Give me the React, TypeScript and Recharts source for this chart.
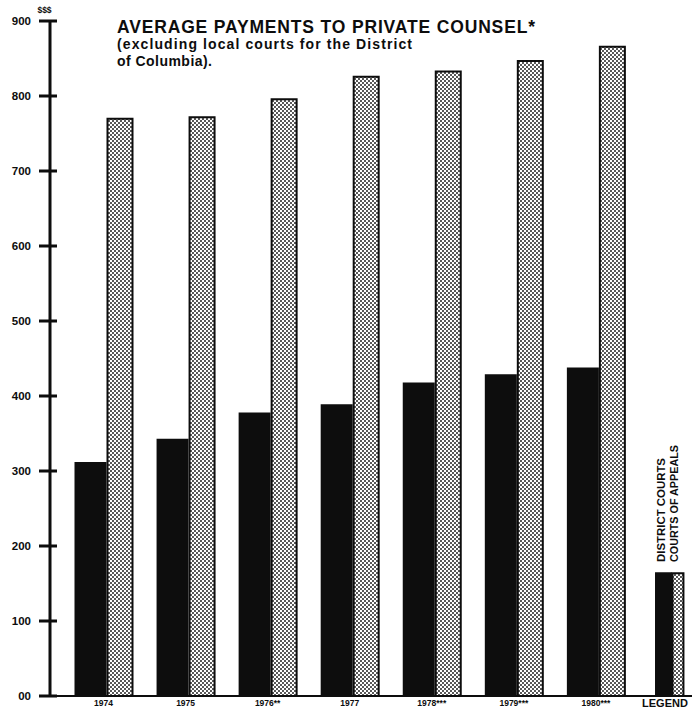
import React from 'react';
import { BarChart, Bar, XAxis, YAxis } from 'recharts';

const years = ['1974', '1975', '1976**', '1977', '1978***', '1979***', '1980***', 'LEGEND'];
const districtCourts = [312, 343, 378, 389, 418, 429, 438, 165];
const courtsOfAppeals = [771, 773, 797, 827, 834, 848, 867, 165];
const yTicks = [0, 100, 200, 300, 400, 500, 600, 700, 800, 900];

const data = years.map((year, i) => ({
  year,
  district: districtCourts[i],
  appeals: courtsOfAppeals[i],
}));

const FONT = '"Liberation Sans", Arial, Helvetica, sans-serif';
const NARROW = '"Liberation Sans Narrow", "Liberation Sans", Arial, sans-serif';
const INK = '#0d0d0d';

const YTick = (props: any) => {
  const x = Number(props.x);
  const y = Number(props.y);
  const v = props.payload.value;
  return (
    <g>
      <rect x={x + 8} y={y - 1.5} width={18} height={3} fill={INK} />
      <text x={x} y={y} dy={4} textAnchor="end" fontSize={11.5} fontWeight="bold" fill={INK} fontFamily={NARROW}>
        {v === 0 ? '00' : String(v)}
      </text>
    </g>
  );
};

const XTick = (props: any) => {
  const { x, y, payload } = props;
  const isLegend = payload.value === 'LEGEND';
  return (
    <text
      x={isLegend ? x - 13 : x}
      y={y}
      dy={isLegend ? 9 : 8}
      textAnchor="middle"
      fontSize={isLegend ? 11 : 8.5}
      fontWeight="bold"
      fill={INK}
      fontFamily={NARROW}
    >
      {payload.value}
    </text>
  );
};

const DistrictShape = (p: any) => {
  let { x, y, width, height, payload } = p;
  if (payload && payload.year === 'LEGEND') {
    x = x + width * 0.19;
    width = width * 0.53;
  }
  return <rect x={x} y={y} width={width} height={height} fill={INK} />;
};

const AppealsShape = (p: any) => {
  let { x, y, width, height, payload } = p;
  if (payload && payload.year === 'LEGEND') {
    x = x - width * 0.35;
    width = width * 0.48;
  }
  return (
    <rect
      x={x + 1}
      y={y + 1}
      width={width - 2}
      height={height - 1}
      fill="url(#halftone)"
      stroke={INK}
      strokeWidth={2}
    />
  );
};

export default function App() {
  return (
    <div style={{ position: 'absolute', left: 0, top: 0, width: 692, height: 710, overflow: 'hidden', background: '#fff' }}>
      <svg width={0} height={0} style={{ position: 'absolute' }}>
        <defs>
          <pattern id="halftone" width={4} height={4} patternUnits="userSpaceOnUse">
            <rect width={4} height={4} fill="#fff" />
            <circle cx={1} cy={1} r={0.95} fill="#111" />
            <circle cx={3} cy={3} r={0.95} fill="#111" />
          </pattern>
        </defs>
      </svg>
      <BarChart
        width={719}
        height={710}
        data={data}
        margin={{ top: 21, right: 0, bottom: 0, left: 0 }}
        barGap={0}
      >
        <XAxis
          dataKey="year"
          height={14}
          padding={{ left: 12.5, right: 0 }}
          axisLine={{ stroke: INK, strokeWidth: 2 }}
          tickLine={false}
          tickSize={0}
          tickMargin={2}
          interval={0}
          tick={(p: any) => <XTick {...p} />}
        />
        <YAxis
          width={50}
          domain={[0, 900]}
          ticks={yTicks}
          interval={0}
          axisLine={{ stroke: INK, strokeWidth: 3 }}
          tickLine={false}
          tickSize={0}
          tickMargin={19}
          tick={(p: any) => <YTick {...p} />}
        />
        <Bar dataKey="district" barSize={32} isAnimationActive={false} shape={(p: any) => <DistrictShape {...p} />} />
        <Bar dataKey="appeals" barSize={27} isAnimationActive={false} shape={(p: any) => <AppealsShape {...p} />} />
      </BarChart>
      <svg width={692} height={710} style={{ position: 'absolute', left: 0, top: 0, pointerEvents: 'none' }}>
        <text x={44.5} y={13} textAnchor="middle" fontSize={8.5} fontWeight="bold" fill={INK} fontFamily={FONT}>$$$</text>
        <text x={117} y={33} fontSize={17.5} fontWeight="bold" fill={INK} fontFamily={FONT} textLength={418} lengthAdjust="spacing">
          AVERAGE PAYMENTS TO PRIVATE COUNSEL*
        </text>
        <text x={117} y={49} fontSize={14} fontWeight="bold" fill={INK} fontFamily={FONT} textLength={295} lengthAdjust="spacing">
          (excluding local courts for the District
        </text>
        <text x={117} y={66} fontSize={14} fontWeight="bold" fill={INK} fontFamily={FONT} textLength={95} lengthAdjust="spacing">
          of Columbia).
        </text>
        <text x={665} y={562} transform="rotate(-90 665 562)" fontSize={11} fontWeight="bold" fill={INK} fontFamily={NARROW} textLength={104} lengthAdjust="spacingAndGlyphs">
          DISTRICT COURTS
        </text>
        <text x={678} y={562} transform="rotate(-90 678 562)" fontSize={11} fontWeight="bold" fill={INK} fontFamily={NARROW} textLength={117} lengthAdjust="spacingAndGlyphs">
          COURTS OF APPEALS
        </text>
      </svg>
    </div>
  );
}
